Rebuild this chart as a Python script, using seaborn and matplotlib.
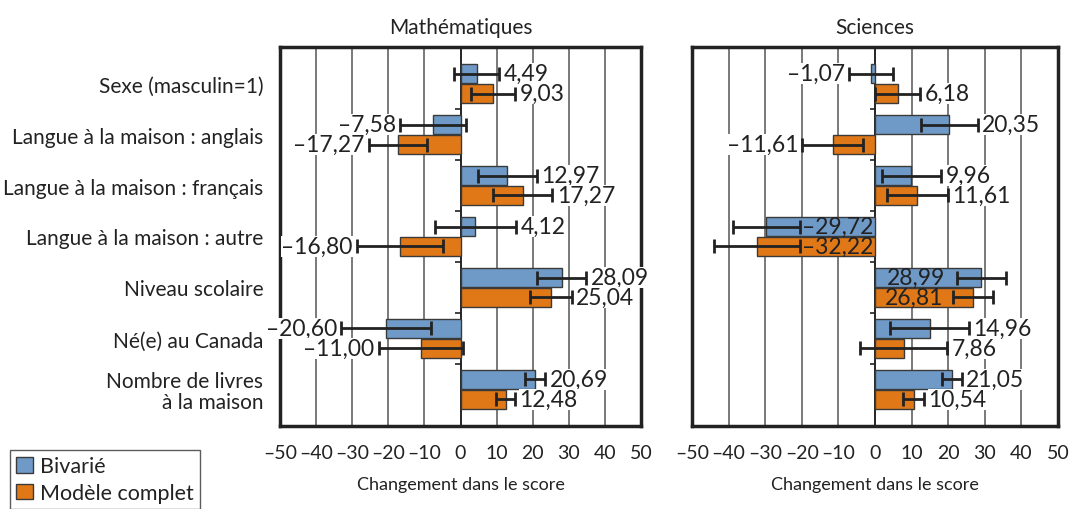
import numpy as np
import pandas as pd
import matplotlib
matplotlib.use("Agg")
import matplotlib.pyplot as plt
import seaborn as sns
from matplotlib.patches import Patch

# data
categories = ["Sexe (masculin=1)", "Langue à la maison : anglais", "Langue à la maison : français",
              "Langue à la maison : autre", "Niveau scolaire", "Né(e) au Canada",
              "Nombre de livres\nà la maison"]
models = ["Bivarié", "Modèle complet"]

math_biv = [4.49, -7.58, 12.97, 4.12, 28.09, -20.60, 20.69]
math_full = [9.03, -17.27, 17.27, -16.80, 25.04, -11.00, 12.48]
math_biv_err = [6.3, 9.2, 8.2, 11.3, 6.8, 12.4, 2.8]
math_full_err = [6.1, 8.1, 8.2, 12.0, 5.9, 11.7, 2.7]

sci_biv = [-1.07, 20.35, 9.96, -29.72, 28.99, 14.96, 21.05]
sci_full = [6.18, -11.61, 11.61, -32.22, 26.81, 7.86, 10.54]
sci_biv_err = [6.05, 7.7, 8.1, 9.2, 6.7, 10.8, 2.65]
sci_full_err = [6.15, 8.2, 8.2, 11.8, 5.5, 11.9, 2.8]

# labels drawn inside the bar instead of beside the error bar
sci_inside = ["Langue à la maison : autre", "Niveau scolaire"]

xticks = list(range(-50, 51, 10))

colors = {"Bivarié": "#6f9ac8", "Modèle complet": "#e07818"}
DARK = "#222222"


def fmt(v):
    s = f"{abs(v):.2f}".replace(".", ",")
    return ("–" + s) if v < 0 else s


def tick_fmt(t):
    return ("–" + str(abs(t))) if t < 0 else str(t)


def make_df(biv, full, biv_err, full_err):
    rows = []
    for c, v, e in zip(categories, biv, biv_err):
        rows.append({"Catégorie": c, "Modèle": "Bivarié", "Score": v, "Erreur": e})
    for c, v, e in zip(categories, full, full_err):
        rows.append({"Catégorie": c, "Modèle": "Modèle complet", "Score": v, "Erreur": e})
    return pd.DataFrame(rows)


def draw_panel(ax, df, title, inside, show_labels):
    sns.barplot(data=df, y="Catégorie", x="Score", hue="Modèle", hue_order=models,
                order=categories, orient="h", palette=colors, saturation=1,
                width=0.78, gap=0.05, edgecolor="#3a3a3a", linewidth=1.0,
                errorbar=None, legend=False, ax=ax, zorder=3)
    ax.set_xlim(-50, 50)
    ax.set_xticks(xticks)
    ax.set_xticklabels([tick_fmt(t) for t in xticks], fontsize=14)
    ax.grid(axis="x", color="#555555", lw=1.1, zorder=0)
    ax.set_axisbelow(True)
    ax.axvline(0, color=DARK, lw=1.3, zorder=2)
    ax.hlines(np.arange(len(categories) - 1) + 0.5, -1.5, 0, color=DARK, lw=1.2, zorder=2)
    ax.tick_params(axis="x", length=0, pad=13)
    ax.tick_params(axis="y", length=0, pad=12)
    if show_labels:
        ax.set_yticks(range(len(categories)))
        ax.set_yticklabels(categories, fontsize=15, linespacing=1.05)
    else:
        ax.set_yticks([])
    ax.set_ylabel("")
    ax.set_xlabel("Changement dans le score", fontsize=13, labelpad=11)
    ax.set_title(title, fontsize=15, pad=10)
    for sp in ax.spines.values():
        sp.set_visible(True)
        sp.set_color(DARK)
        sp.set_linewidth(2.5)

    for i, m in enumerate(models):
        sub = df[df["Modèle"] == m].set_index("Catégorie").loc[categories]
        for bar, (cat, row) in zip(ax.containers[i], sub.iterrows()):
            y = bar.get_y() + bar.get_height() / 2
            v, e = row["Score"], row["Erreur"]
            ax.errorbar(v, y, xerr=e, fmt="none", ecolor=DARK, elinewidth=2,
                        capsize=5, capthick=2, zorder=4)
            if cat in inside:
                xt = (v + e) / 2 if v < 0 else (v - e) / 2
                ax.text(xt, y, fmt(v), ha="center", va="center", fontsize=16.5,
                        color=DARK, zorder=5)
            else:
                if v >= 0:
                    ax.annotate(fmt(v), (v + e, y), xytext=(3, 0), textcoords="offset points",
                                ha="left", va="center", fontsize=16.5, color=DARK, zorder=5,
                                bbox=dict(fc="white", ec="none", pad=0.2))
                else:
                    ax.annotate(fmt(v), (v - e, y), xytext=(-3, 0), textcoords="offset points",
                                ha="right", va="center", fontsize=16.5, color=DARK, zorder=5,
                                bbox=dict(fc="white", ec="none", pad=0.2))


sns.set_style("white")
plt.rcParams["font.family"] = ["Lato", "DejaVu Sans"]
plt.rcParams["text.color"] = DARK
plt.rcParams["axes.labelcolor"] = DARK
plt.rcParams["xtick.color"] = DARK
plt.rcParams["ytick.color"] = DARK

fig = plt.figure(figsize=(10.72, 5.10), dpi=100)
W, H = 1072, 510
ax1 = fig.add_axes([280 / W, 1 - 427 / H, (641 - 280) / W, (427 - 48) / H])
ax2 = fig.add_axes([692 / W, 1 - 427 / H, (1058 - 692) / W, (427 - 48) / H])

draw_panel(ax1, make_df(math_biv, math_full, math_biv_err, math_full_err), "Mathématiques", [], True)
draw_panel(ax2, make_df(sci_biv, sci_full, sci_biv_err, sci_full_err), "Sciences", sci_inside, False)

handles = [Patch(facecolor=colors[m], edgecolor="#3a3a3a", lw=1.0, label=m) for m in models]
leg = fig.legend(handles=handles, loc="upper left", bbox_to_anchor=(10 / W, 1 - 451 / H),
                 frameon=True, fancybox=False, edgecolor="#333333", fontsize=15.5,
                 handlelength=0.75, handleheight=0.75, handletextpad=0.35,
                 borderpad=0.3, borderaxespad=0, labelspacing=0.3)
leg.get_frame().set_linewidth(1.0)

fig.savefig("out.png", dpi=100)
